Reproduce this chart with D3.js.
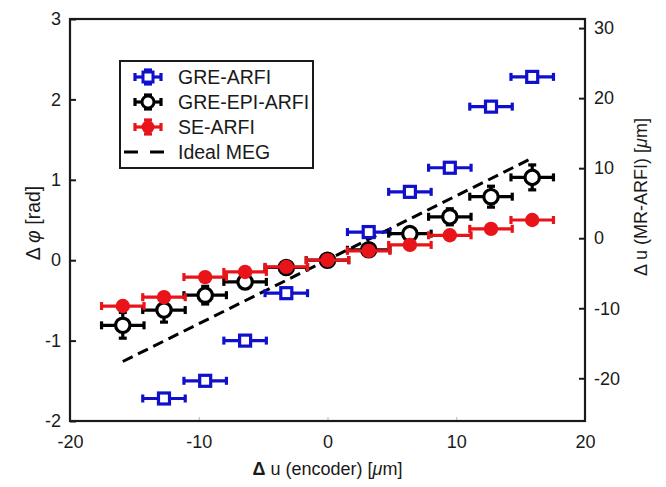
<!DOCTYPE html>
<html>
<head>
<meta charset="utf-8">
<script src="https://cdn.jsdelivr.net/npm/d3@7"></script>
<style>
  body { margin: 0; background: #fff; }
  text { font-family: "Liberation Sans", Arial, Helvetica, sans-serif; fill: #1a1a1a; }
</style>
</head>
<body>
<script>
// encoder displacement steps (um)
var xEnc = [-15.9, -12.7, -9.5, -6.4, -3.2, 0, 3.2, 6.4, 9.5, 12.7, 15.9];
var xErr = 1.65;

// GRE-ARFI (no point at -15.9 / 0)
var greX = [-12.7, -9.5, -6.4, -3.2, 3.2, 6.4, 9.5, 12.7, 15.9];
var greY = [-1.72, -1.50, -1.00, -0.41, 0.35, 0.85, 1.15, 1.91, 2.28];
var greErr = [0.04, 0.04, 0.04, 0.04, 0.04, 0.04, 0.04, 0.04, 0.05];

// GRE-EPI-ARFI
var epiY = [-0.81, -0.62, -0.435, -0.27, -0.09, 0, 0.13, 0.33, 0.54, 0.79, 1.03];
var epiErr = [0.16, 0.15, 0.11, 0.08, 0.06, 0.05, 0.06, 0.07, 0.10, 0.13, 0.155];

// SE-ARFI
var seY = [-0.57, -0.46, -0.21, -0.146, -0.083, 0, 0.116, 0.19, 0.31, 0.39, 0.50];
var seErr = [0.03, 0.03, 0.03, 0.03, 0.03, 0.03, 0.03, 0.03, 0.03, 0.03, 0.03];

// ideal MEG line
var idealX = [-15.9, 15.9];
var idealY = [-1.26, 1.27];

var xTicks = [-20, -10, 0, 10, 20];
var yTicks = [-2, -1, 0, 1, 2, 3];
var y2Ticks = [-20, -10, 0, 10, 20, 30];

var legendNames = ["GRE-ARFI", "GRE-EPI-ARFI", "SE-ARFI", "Ideal MEG"];

var W = 666, H = 487;
var pLeft = 70, pRight = 585, pTop = 19, pBottom = 421;

var svg = d3.select("body").append("svg")
    .attr("width", W).attr("height", H);

var x = d3.scaleLinear().domain([-20, 20]).range([pLeft, pRight]);
var y = d3.scaleLinear().domain([-2, 3]).range([pBottom, pTop]);
var y2 = d3.scaleLinear().domain([-26.1, 31.3]).range([pBottom, pTop]);

var fmt = function(d) { return String(d); };

// axes
var gx = svg.append("g").attr("transform", "translate(0," + pBottom + ")")
    .call(d3.axisBottom(x).tickValues(xTicks).tickSize(-4).tickPadding(14).tickFormat(fmt));
gx.selectAll(".tick line").attr("stroke", "#bbb");

var gy = svg.append("g").attr("transform", "translate(" + pLeft + ",0)")
    .call(d3.axisLeft(y).tickValues(yTicks).tickSize(-6).tickPadding(9).tickFormat(fmt));
gy.selectAll(".tick line").attr("stroke", "#1a1a1a").attr("stroke-width", 2);

var gy2 = svg.append("g").attr("transform", "translate(" + pRight + ",0)")
    .call(d3.axisRight(y2).tickValues(y2Ticks).tickSize(-6).tickPadding(9).tickFormat(fmt));
gy2.selectAll(".tick line").attr("stroke", "#1a1a1a").attr("stroke-width", 2);

svg.selectAll(".domain").remove();
svg.selectAll(".tick text").style("font-size", "18px")
    .style("font-family", "'Liberation Sans', Arial, sans-serif").attr("fill", "#1a1a1a");

svg.append("rect")
    .attr("x", pLeft).attr("y", pTop)
    .attr("width", pRight - pLeft).attr("height", pBottom - pTop)
    .attr("fill", "none").attr("stroke", "#1a1a1a").attr("stroke-width", 2.2);

// axis titles
var xt = svg.append("text").attr("x", (pLeft + pRight) / 2).attr("y", 475)
    .attr("text-anchor", "middle").style("font-size", "18px");
xt.append("tspan").attr("font-weight", "bold").text("\u0394");
xt.append("tspan").text(" u (encoder) [");
xt.append("tspan").attr("font-style", "italic").text("\u03bc");
xt.append("tspan").text("m]");

var yt = svg.append("text").attr("transform", "translate(40,223) rotate(-90)")
    .attr("text-anchor", "middle").style("font-size", "19.5px");
yt.append("tspan").text("\u0394 ");
yt.append("tspan").attr("font-style", "italic").text("\u03c6");
yt.append("tspan").text(" [rad]");

var y2t = svg.append("text").attr("transform", "translate(647,197) rotate(-90)")
    .attr("text-anchor", "middle").style("font-size", "18px");
y2t.append("tspan").text("\u0394 u (MR-ARFI) [");
y2t.append("tspan").attr("font-style", "italic").text("\u03bc");
y2t.append("tspan").text("m]");

// ideal line
var idealData = idealX.map(function(d, i) { return [d, idealY[i]]; });
svg.append("path")
    .attr("d", d3.line().x(function(d) { return x(d[0]); }).y(function(d) { return y(d[1]); })(idealData))
    .attr("stroke", "#000").attr("stroke-width", 3)
    .attr("stroke-dasharray", "11 6").attr("fill", "none");

// errorbar helper
function errorBars(g, data, color) {
    var cap = 4;
    data.forEach(function(d) {
        var cx = x(d.x), cy = y(d.y);
        var x0 = x(d.x - xErr), x1 = x(d.x + xErr);
        var yA = y(d.y - d.e), yB = y(d.y + d.e);
        var segs = [
            [x0, cy, x1, cy], [x0, cy - cap, x0, cy + cap], [x1, cy - cap, x1, cy + cap],
            [cx, yA, cx, yB], [cx - cap, yA, cx + cap, yA], [cx - cap, yB, cx + cap, yB]
        ];
        g.selectAll(null).data(segs).enter().append("line")
            .attr("x1", function(s) { return s[0]; }).attr("y1", function(s) { return s[1]; })
            .attr("x2", function(s) { return s[2]; }).attr("y2", function(s) { return s[3]; })
            .attr("stroke", color).attr("stroke-width", 3.2);
    });
}

var blue = "#1010cc", red = "#e8141a";

var greData = greX.map(function(d, i) { return { x: d, y: greY[i], e: greErr[i] }; });
var epiData = xEnc.map(function(d, i) { return { x: d, y: epiY[i], e: epiErr[i] }; });
var seData = xEnc.map(function(d, i) { return { x: d, y: seY[i], e: seErr[i] }; });

var gGre = svg.append("g");
errorBars(gGre, greData, blue);
gGre.selectAll("rect").data(greData).enter().append("rect")
    .attr("x", function(d) { return x(d.x) - 5.5; })
    .attr("y", function(d) { return y(d.y) - 5.5; })
    .attr("width", 11).attr("height", 11)
    .attr("fill", "#fff").attr("stroke", blue).attr("stroke-width", 3.2);

var gEpi = svg.append("g");
errorBars(gEpi, epiData, "#000");
gEpi.selectAll("circle").data(epiData).enter().append("circle")
    .attr("cx", function(d) { return x(d.x); })
    .attr("cy", function(d) { return y(d.y); })
    .attr("r", 7.2)
    .attr("fill", "#fff").attr("stroke", "#000").attr("stroke-width", 3.2);

var gSe = svg.append("g");
errorBars(gSe, seData, red);
gSe.selectAll("circle").data(seData).enter().append("circle")
    .attr("cx", function(d) { return x(d.x); })
    .attr("cy", function(d) { return y(d.y); })
    .attr("r", 7.2)
    .attr("fill", red);

// legend
var lg = svg.append("g");
lg.append("rect").attr("x", 120).attr("y", 61).attr("width", 193).attr("height", 107)
    .attr("fill", "#fff").attr("stroke", "#1a1a1a").attr("stroke-width", 2);
var rows = [77, 102, 127, 152];
legendNames.forEach(function(name, i) {
    lg.append("text").attr("x", 178).attr("y", rows[i]).attr("dy", "0.35em")
        .style("font-size", "19.5px").text(name);
});
function legendBar(cy, color) {
    var cx = 148;
    var segs = [[cx - 13, cy, cx + 13, cy], [cx - 13, cy - 4, cx - 13, cy + 4], [cx + 13, cy - 4, cx + 13, cy + 4],
        [cx, cy - 7, cx, cy + 7], [cx - 4, cy - 7, cx + 4, cy - 7], [cx - 4, cy + 7, cx + 4, cy + 7]];
    lg.selectAll(null).data(segs).enter().append("line")
        .attr("x1", function(s) { return s[0]; }).attr("y1", function(s) { return s[1]; })
        .attr("x2", function(s) { return s[2]; }).attr("y2", function(s) { return s[3]; })
        .attr("stroke", color).attr("stroke-width", 3.2);
}
legendBar(rows[0], blue);
lg.append("rect").attr("x", 143).attr("y", rows[0] - 5).attr("width", 10).attr("height", 10)
    .attr("fill", "#fff").attr("stroke", blue).attr("stroke-width", 3);
legendBar(rows[1], "#000");
lg.append("circle").attr("cx", 148).attr("cy", rows[1]).attr("r", 6)
    .attr("fill", "#fff").attr("stroke", "#000").attr("stroke-width", 3);
legendBar(rows[2], red);
lg.append("circle").attr("cx", 148).attr("cy", rows[2]).attr("r", 6.5).attr("fill", red);
lg.append("line").attr("x1", 124).attr("x2", 164).attr("y1", rows[3]).attr("y2", rows[3])
    .attr("stroke", "#000").attr("stroke-width", 3).attr("stroke-dasharray", "14 12");
</script>
</body>
</html>
